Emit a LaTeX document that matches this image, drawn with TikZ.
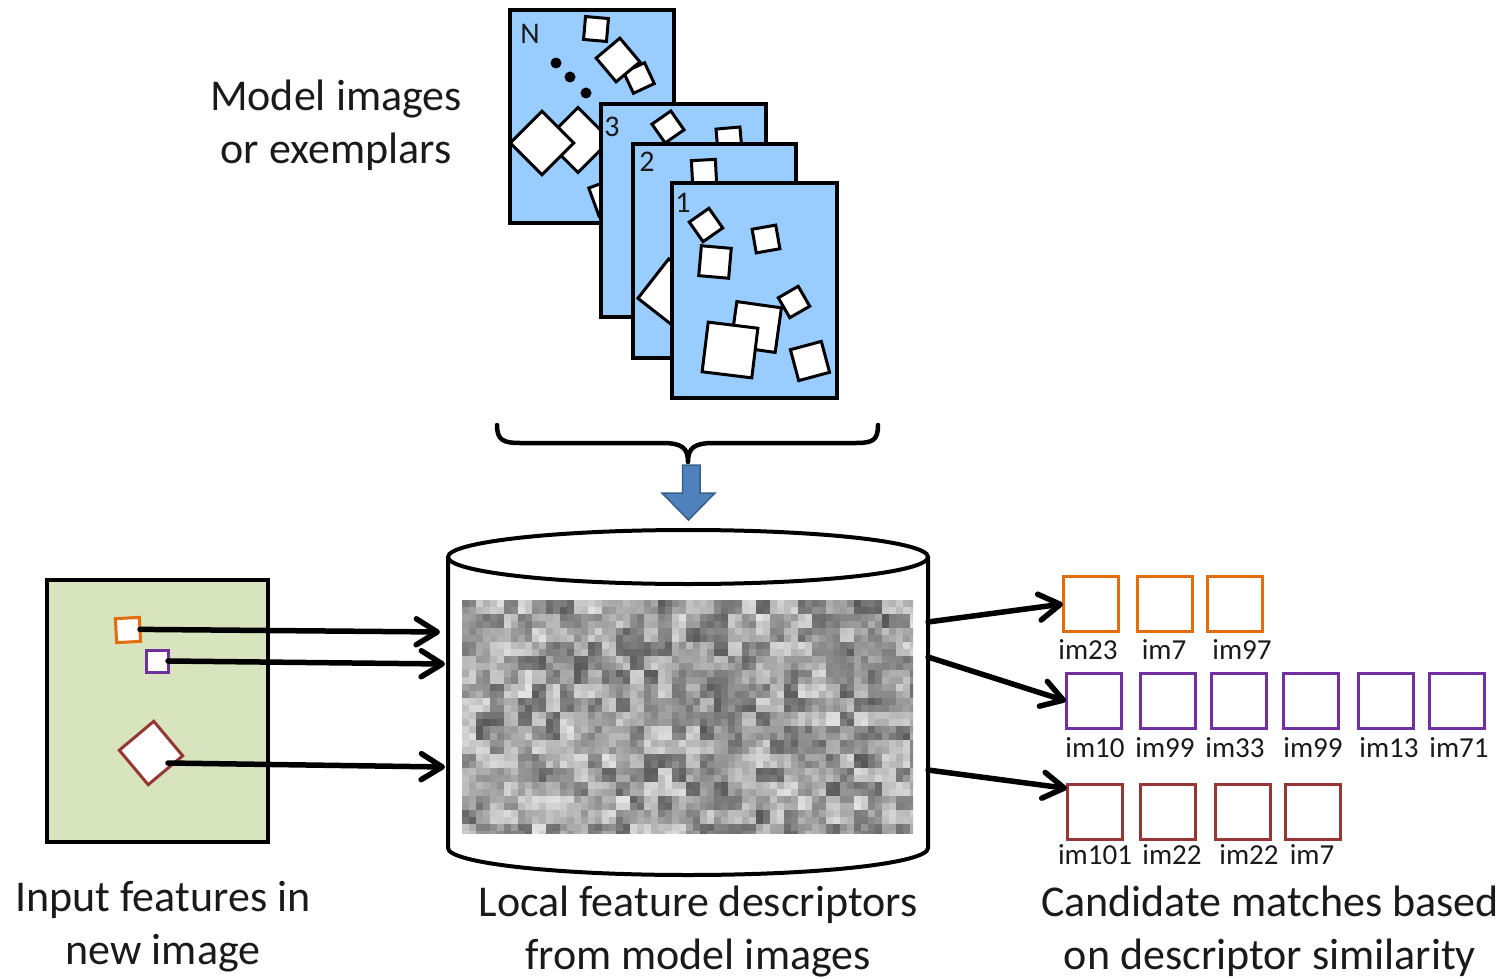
\documentclass[tikz,border=0pt]{standalone}
\usepackage{fontspec}
\setmainfont{Carlito}
\usetikzlibrary{arrows.meta}
\definecolor{cardblue}{HTML}{99CCFF}
\definecolor{imggreen}{HTML}{D7E4BD}
\definecolor{forange}{HTML}{E46C0A}
\definecolor{fpurple}{HTML}{7030A0}
\definecolor{fbrown}{HTML}{953735}
\definecolor{bluearrow}{HTML}{4F81BD}
\definecolor{bluearrowline}{HTML}{385D8A}
\definecolor{txtgray}{HTML}{1A1A1A}
\begin{document}
\begin{tikzpicture}[x=1pt,y=-1pt,
  card/.style={draw=black,fill=cardblue,line width=4pt,line join=miter},
  wsq/.style={draw=black,fill=white,line width=3pt,inner sep=0pt,outer sep=0pt,minimum size=#1},
  cnum/.style={font=\fontsize{30}{30}\selectfont,text=txtgray,inner sep=0pt},
  bigtxt/.style={font=\fontsize{44}{53}\selectfont,text=txtgray,align=center,inner sep=0pt},
  lbl/.style={font=\fontsize{29}{29}\selectfont,text=txtgray,inner sep=0pt},
  feat/.style={draw=#1,fill=white,line width=3pt,inner sep=0pt,outer sep=0pt},
  cand/.style={draw=#1,line width=3pt,inner sep=0pt,outer sep=0pt,minimum size=55pt},
  conn/.style={line width=5.5pt,line cap=round,-{Straight Barb[length=21pt,width=26pt,round]}},
]
\useasboundingbox (0,0) rectangle (1510,979);

% ---------- model images ----------
% card N
\draw[card] (510,10) rectangle (674,223);
\node[cnum] (lN) at (530,34) {N};
\node[wsq=23pt,rotate=-5] (n1) at (596,29) {};
\node[wsq=23pt,rotate=25] (n3) at (639,78) {};
\node[wsq=31pt,rotate=40] (n2) at (618,60) {};
\fill (556,63) circle[radius=5.5];
\fill (570,77) circle[radius=5.5];
\fill (586,93) circle[radius=5.5];
\node[wsq=30pt,rotate=20] (n6) at (608,197) {};
\node[wsq=46pt,rotate=45] (n5) at (578,140) {};
\node[wsq=45pt,rotate=45] (n4) at (542,143) {};
% card 3
\draw[card] (601,104) rectangle (766,317);
\node[cnum] (l3) at (612,127) {3};
\node[wsq=23pt,rotate=35] (t1) at (668,127) {};
\node[wsq=24pt,rotate=5] (t2) at (729,140) {};
% card 2
\draw[card] (633,144) rectangle (796,358);
\node[cnum] (l2) at (647,162) {2};
\node[wsq=24pt,rotate=3] (d1) at (704,172) {};
\begin{scope}
\clip (633,144) rectangle (796,358);
\node[wsq=50pt,rotate=52] (d2) at (673,294) {};
\end{scope}
% card 1
\draw[card] (672,183) rectangle (837,398);
\node[cnum] (l1) at (683,203) {1};
\node[wsq=24pt,rotate=35] (o1) at (706,225) {};
\node[wsq=30pt,rotate=-5] (o2) at (715,262) {};
\node[wsq=24pt,rotate=10] (o3) at (766,239) {};
\node[wsq=23pt,rotate=30] (o4) at (794,302) {};
\node[wsq=45pt,rotate=-8] (o5) at (756,327) {};
\node[wsq=50pt,rotate=-7] (o6) at (730,350) {};
\node[wsq=32pt,rotate=15] (o7) at (810,361) {};

\node[bigtxt] (model) at (336,125) {Model images\\or exemplars};

% brace
\draw[line width=4.5pt,line cap=round,line join=round]
  (497,425) .. controls (497,440) and (503,443) .. (520,443) -- (662,443)
  .. controls (682,443) and (688,448) .. (688,462)
  .. controls (688,448) and (694,443) .. (714,443) -- (856,443)
  .. controls (873,443) and (878,440) .. (878,425);

% blue block arrow
\draw[fill=bluearrow,draw=bluearrowline,line width=1.5pt,line join=miter]
  (682.5,465) -- (700,465) -- (700,493) -- (715,493) -- (688.5,520)
  -- (662,493) -- (682.5,493) -- cycle;

% ---------- database cylinder ----------
\draw[line width=4pt,fill=white] (448,557) -- (448,848)
  arc[start angle=180,end angle=0,x radius=240,y radius=27] -- (928,557);
\draw[line width=4pt,fill=white] (688,557) ellipse[x radius=240,y radius=27];
\begin{scope}
\clip (462,600) rectangle (913,833);
\pgfmathsetseed{11}
\foreach \i in {0,...,32}{
  \foreach \j in {0,...,16}{
    \pgfmathsetmacro\g{int(18+42*rnd)}
    \foreach \a in {0,1}{
      \foreach \b in {0,1}{
        \pgfmathsetmacro\h{int(max(5,min(85,\g+16*rnd-8)))}
        \fill[black!\h!white] (462+14*\i+7*\a,600+14*\j+7*\b) rectangle ++(7.3,7.3);
      }
    }
  }
}
\end{scope}
\node[inner sep=0pt,minimum width=451pt,minimum height=233pt] (db) at (687.5,716.5) {};

% ---------- input image ----------
\node[draw=black,fill=imggreen,line width=4pt,minimum width=221pt,minimum height=262pt,inner sep=0pt] (img) at (157.5,711) {};
\node[feat=forange,minimum size=24pt,rotate=3] (fo) at (128,630) {};
\node[feat=fpurple,minimum size=22pt] (fp) at (157,661) {};
\node[feat=fbrown,minimum size=45pt,rotate=40] (fd) at (151,753) {};
\coordinate (fdo) at (168,763);
\coordinate (in1) at (440,632);
\coordinate (in2) at (445,664);
\coordinate (in3) at (445,767);
\draw[conn] (fo.east) -- (in1);
\draw[conn] (fp.east) -- (in2);
\draw[conn] (fdo) -- (in3);

% ---------- candidate matches ----------
\foreach \x/\n in {1090.5/11,1165/12,1235/13}{
  \node[cand=forange] (c\n) at (\x,604) {};
}
\foreach \x/\n in {1093.5/21,1168/22,1238.5/23,1311/24,1385.5/25,1456.5/26}{
  \node[cand=fpurple] (c\n) at (\x,701) {};
}
\foreach \x/\n in {1094.5/31,1168/32,1242.5/33,1313/34}{
  \node[cand=fbrown] (c\n) at (\x,811.5) {};
}
\node[lbl] (a1) at (1088,650) {im23};
\node[lbl] (a2) at (1164,650) {im7};
\node[lbl] (a3) at (1242,650) {im97};
\node[lbl] (b1) at (1095,748) {im10};
\node[lbl] (b2) at (1165,748) {im99};
\node[lbl] (b3) at (1235,748) {im33};
\node[lbl] (b4) at (1313,748) {im99};
\node[lbl] (b5) at (1389,748) {im13};
\node[lbl] (b6) at (1459,748) {im71};
\node[lbl] (e1) at (1095,855) {im101};
\node[lbl] (e2) at (1172,855) {im22};
\node[lbl] (e3) at (1249,855) {im22};
\node[lbl] (e4) at (1312,855) {im7};

\coordinate (out1) at (928,622);
\coordinate (out2) at (928,657);
\coordinate (out3) at (928,770);
\draw[conn] (out1) -- (c11.west);
\draw[conn] (out2) -- (c21.west);
\draw[conn] (out3) -- (c31.140);

% ---------- captions ----------
\node[bigtxt] (capin) at (163,927) {Input features in\\new image};
\node[bigtxt] (capdb) at (698,931) {Local feature descriptors\\from model images};
\node[bigtxt] (capcm) at (1270,931) {Candidate matches based\\on descriptor similarity};
\end{tikzpicture}
\end{document}
